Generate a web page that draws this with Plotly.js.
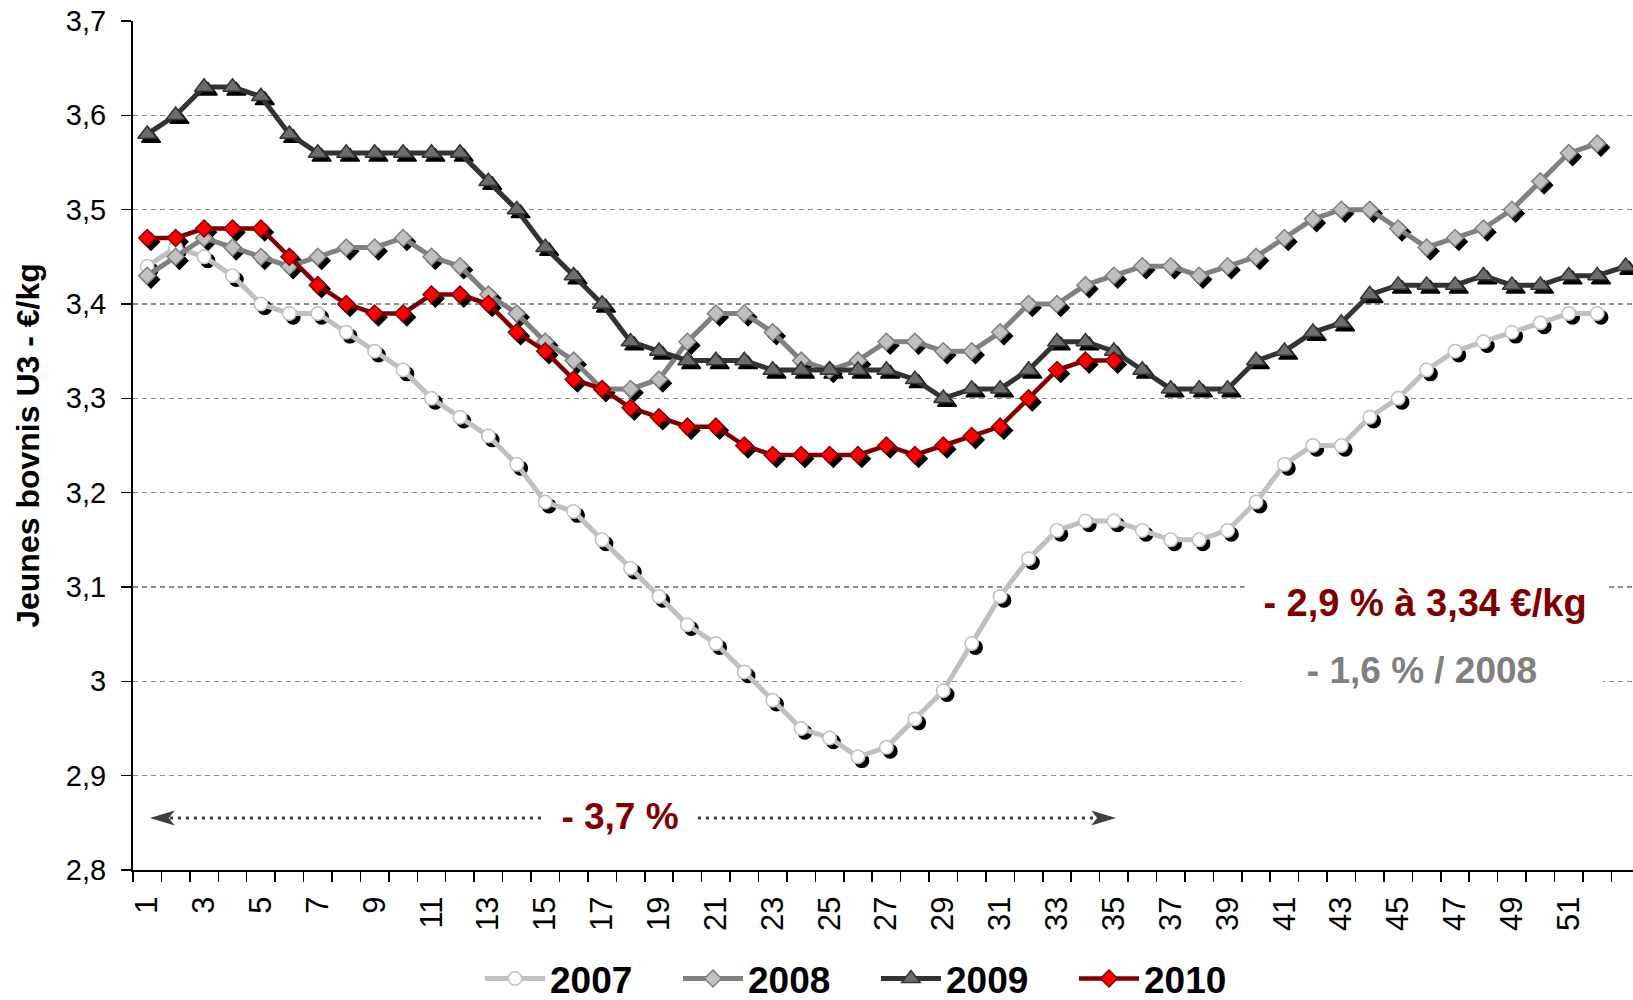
<!DOCTYPE html>
<html>
<head>
<meta charset="utf-8">
<script src="https://cdn.plot.ly/plotly-3.0.1.min.js"></script>
<style>
  html, body { margin: 0; padding: 0; background: #ffffff; }
  #chart { width: 1633px; height: 1000px; }
</style>
</head>
<body>
<div id="chart"></div>
<script>
// ---------- data ----------
const weeks = [1,2,3,4,5,6,7,8,9,10,11,12,13,14,15,16,17,18,19,20,21,22,23,24,25,26,27,28,29,30,31,32,33,34,35,36,37,38,39,40,41,42,43,44,45,46,47,48,49,50,51,52,53];
const xTickLabels = ['1','3','5','7','9','11','13','15','17','19','21','23','25','27','29','31','33','35','37','39','41','43','45','47','49','51'];
const seriesNames = ['2007','2008','2009','2010'];

const values2007 = [3.44,3.46,3.45,3.43,3.40,3.39,3.39,3.37,3.35,3.33,
                    3.30,3.28,3.26,3.23,3.19,3.18,3.15,3.12,3.09,3.06,
                    3.04,3.01,2.98,2.95,2.94,2.92,2.93,2.96,2.99,3.04,
                    3.09,3.13,3.16,3.17,3.17,3.16,3.15,3.15,3.16,3.19,
                    3.23,3.25,3.25,3.28,3.30,3.33,3.35,3.36,3.37,3.38,
                    3.39,3.39];
const values2008 = [3.43,3.45,3.47,3.46,3.45,3.44,3.45,3.46,3.46,3.47,
                    3.45,3.44,3.41,3.39,3.36,3.34,3.31,3.31,3.32,3.36,
                    3.39,3.39,3.37,3.34,3.33,3.34,3.36,3.36,3.35,3.35,
                    3.37,3.40,3.40,3.42,3.43,3.44,3.44,3.43,3.44,3.45,
                    3.47,3.49,3.50,3.50,3.48,3.46,3.47,3.48,3.50,3.53,
                    3.56,3.57];
const values2009 = [3.58,3.60,3.63,3.63,3.62,3.58,3.56,3.56,3.56,3.56,
                    3.56,3.56,3.53,3.50,3.46,3.43,3.40,3.36,3.35,3.34,
                    3.34,3.34,3.33,3.33,3.33,3.33,3.33,3.32,3.30,3.31,
                    3.31,3.33,3.36,3.36,3.35,3.33,3.31,3.31,3.31,3.34,
                    3.35,3.37,3.38,3.41,3.42,3.42,3.42,3.43,3.42,3.42,
                    3.43,3.43,3.44];
const values2010 = [3.47,3.47,3.48,3.48,3.48,3.45,3.42,3.40,3.39,3.39,
                    3.41,3.41,3.40,3.37,3.35,3.32,3.31,3.29,3.28,3.27,
                    3.27,3.25,3.24,3.24,3.24,3.24,3.25,3.24,3.25,3.26,
                    3.27,3.30,3.33,3.34,3.34];

const yAxisTitle = 'Jeunes bovnis U3 - €/kg';
const noteSpan = '- 3,7 %';
const noteLatest = '- 2,9 % à 3,34 €/kg';
const noteVs2008 = '- 1,6 % / 2008';

// ---------- styles ----------
const FONT = 'Liberation Sans, Arial, Helvetica, sans-serif';
const styles = [
  { line: '#C0C0C0', width: 5,   symbol: 'circle',      size: 13.5, fill: '#FFFFFF', border: '#C0C0C0', bw: 1.5 },
  { line: '#808080', width: 5,   symbol: 'diamond',     size: 13,   fill: '#C0C0C0', border: '#808080', bw: 1.5 },
  { line: '#333333', width: 5,   symbol: 'triangle-up', size: 16.5, fill: '#6D6D6D', border: '#333333', bw: 1.5 },
  { line: '#800000', width: 4.5, symbol: 'diamond',     size: 13,   fill: '#FF0000', border: '#800000', bw: 1.5 }
];
const allValues = [values2007, values2008, values2009, values2010];

// geometry of plot area
const W = 1633, H = 1000;
const mL = 133, mR = 0, mT = 21, mB = 130;
const xMin = 0.5, xMax = 53.26;
const yMin = 2.8, yMax = 3.7;
const plotW = W - mL - mR, plotH = H - mT - mB;
const shadowPx = 3.8;
const dx = shadowPx * (xMax - xMin) / plotW;
const dy = shadowPx * (yMax - yMin) / plotH;

const traces = [];
// shadows (main hidden axes, shifted ranges => offset down/right)
allValues.forEach((vals, i) => {
  const s = styles[i];
  traces.push({
    x: weeks.slice(0, vals.length), y: vals,
    xaxis: 'x', yaxis: 'y',
    type: 'scatter', mode: 'markers',
    marker: { symbol: s.symbol, size: s.size, color: '#000000', line: { width: s.bw, color: '#000000' } },
    showlegend: false, hoverinfo: 'skip', cliponaxis: false
  });
});
// series
allValues.forEach((vals, i) => {
  const s = styles[i];
  traces.push({
    x: weeks.slice(0, vals.length), y: vals,
    xaxis: 'x2', yaxis: 'y2',
    name: seriesNames[i],
    type: 'scatter', mode: 'lines+markers',
    line: { color: s.line, width: s.width },
    marker: { symbol: s.symbol, size: s.size, color: s.fill, line: { width: s.bw, color: s.border } },
    cliponaxis: false
  });
});

const boundaries = weeks.map(w => w - 0.5);

const layout = {
  width: W, height: H,
  margin: { l: mL, r: mR, t: mT, b: mB, autoexpand: false },
  paper_bgcolor: '#FFFFFF', plot_bgcolor: '#FFFFFF',
  font: { family: FONT, color: '#000000' },
  separators: ', ',
  showlegend: true,
  xaxis: { range: [xMin - dx, xMax - dx], visible: false, fixedrange: true },
  yaxis: { range: [yMin + dy, yMax + dy], visible: false, fixedrange: true },
  xaxis2: {
    overlaying: 'x', anchor: 'y2',
    range: [xMin, xMax],
    tickmode: 'array', tickvals: xTickLabels.map(Number), ticktext: xTickLabels,
    tickangle: -90, ticks: '',
    tickfont: { size: 31, color: '#000000', family: FONT },
    ticklabelstandoff: 12,
    showline: true, linecolor: '#000000', linewidth: 2,
    showgrid: false, zeroline: false,
    minor: { tickmode: 'array', tickvals: boundaries, ticks: 'outside', ticklen: 10, tickwidth: 1.5, tickcolor: '#000000', showgrid: false }
  },
  yaxis2: {
    overlaying: 'y', anchor: 'x2', side: 'left',
    range: [yMin, yMax], tick0: 2.8, dtick: 0.1,
    ticks: 'outside', ticklen: 10, tickwidth: 1.5, tickcolor: '#000000',
    tickfont: { size: 29, color: '#000000', family: FONT },
    ticklabelstandoff: 9,
    showline: true, linecolor: '#000000', linewidth: 2,
    showgrid: true, gridcolor: '#8C8C8C', gridwidth: 1.5, griddash: '5px,4px',
    zeroline: false,
    title: { text: yAxisTitle, font: { size: 32, weight: 700, color: '#000000', family: FONT }, standoff: 17 }
  },
  legend: {
    orientation: 'h', xref: 'paper', yref: 'paper',
    x: (480 - mL) / plotW, xanchor: 'left',
    y: 0, yanchor: 'middle',
    font: { size: 37, weight: 700, color: '#000000', family: FONT },
    itemwidth: 60, entrywidth: 123, entrywidthmode: 'pixels',
    bgcolor: 'rgba(0,0,0,0)', traceorder: 'normal'
  },
  shapes: [
    { type: 'line', xref: 'x2', yref: 'y2', x0: 1.8, x1: 34.38, y0: 2.855, y1: 2.855,
      line: { color: '#404040', width: 3, dash: '3px,5px' }, layer: 'above' },
    { type: 'path', xref: 'x2', yref: 'y2', xsizemode: 'pixel', ysizemode: 'pixel',
      xanchor: 1.09, yanchor: 2.855, path: 'M0,0 L25,7.5 L19,0 L25,-7.5 Z',
      fillcolor: '#404040', line: { width: 0 }, layer: 'above' },
    { type: 'path', xref: 'x2', yref: 'y2', xsizemode: 'pixel', ysizemode: 'pixel',
      xanchor: 35.08, yanchor: 2.855, path: 'M0,0 L-25,7.5 L-19,0 L-25,-7.5 Z',
      fillcolor: '#404040', line: { width: 0 }, layer: 'above' }
  ],
  annotations: [
    { xref: 'x2', yref: 'y2', x: 17.64, y: 2.857, text: noteSpan, showarrow: false,
      font: { size: 37, weight: 700, color: '#800000', family: FONT },
      bgcolor: '#FFFFFF', width: 150, borderpad: 2 },
    { xref: 'x2', yref: 'y2', x: 45.95, y: 3.083, text: noteLatest, showarrow: false,
      font: { size: 38, weight: 700, color: '#800000', family: FONT },
      bgcolor: '#FFFFFF', width: 356, borderpad: 2 },
    { xref: 'x2', yref: 'y2', x: 45.85, y: 3.012, text: noteVs2008, showarrow: false,
      font: { size: 37, weight: 700, color: '#808080', family: FONT },
      bgcolor: '#FFFFFF', width: 356, borderpad: 2 }
  ]
};
// legend: centre of the row at pixel y = 979
layout.legend.y = (H - mB - 979) / plotH;

Plotly.newPlot('chart', traces, layout, { staticPlot: true, displayModeBar: false });
</script>
</body>
</html>
